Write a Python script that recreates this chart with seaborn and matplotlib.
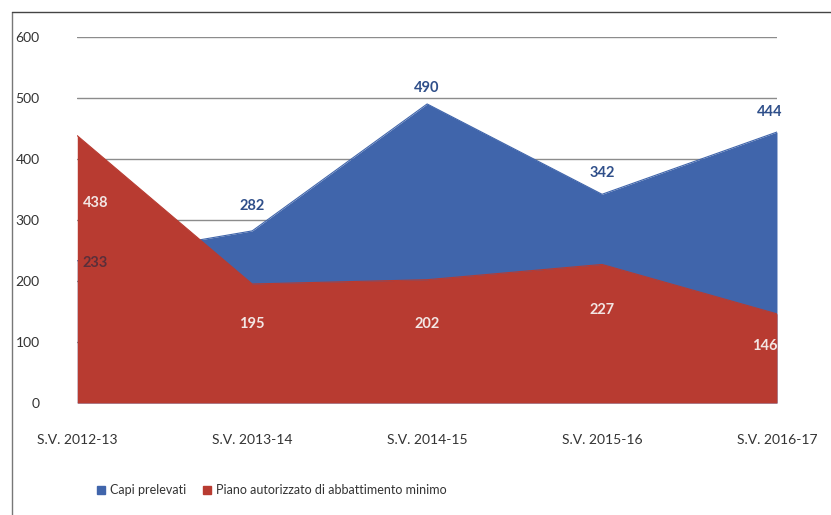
import pandas as pd
import matplotlib.pyplot as plt
import seaborn as sns
from matplotlib.patches import Patch

# Values
seasons = ['S.V. 2012-13', 'S.V. 2013-14', 'S.V. 2014-15', 'S.V. 2015-16', 'S.V. 2016-17']
capi_prelevati = [233, 282, 490, 342, 444]
piano_minimo = [438, 195, 202, 227, 146]

data = pd.DataFrame({'season': seasons,
                     'Capi prelevati': capi_prelevati,
                     'Piano autorizzato di abbattimento minimo': piano_minimo})
data['x'] = range(len(data))

sns.set_theme(style="white")
plt.rcParams['font.family'] = ['Lato', 'DejaVu Sans']

blue = '#4065ab'
red = '#b83b31'

fig = plt.figure(figsize=(8.31, 5.15), dpi=100)
ax = fig.add_axes([0.093, 0.2175, 0.842, 0.711])

# gridlines behind the areas
ax.set_axisbelow(True)
ax.yaxis.grid(True, color='#8c8c8c', linewidth=1)

# blue area first, red area drawn on top (overlapping, not stacked)
ax.fill_between(data['x'], data['Capi prelevati'], color=blue, linewidth=0, zorder=2)
sns.lineplot(data=data, x='x', y='Capi prelevati', color=blue, linewidth=0.8, ax=ax, zorder=2)
ax.fill_between(data['x'], data['Piano autorizzato di abbattimento minimo'], color=red, linewidth=0, zorder=3)
sns.lineplot(data=data, x='x', y='Piano autorizzato di abbattimento minimo', color=red,
             linewidth=0.8, ax=ax, zorder=3)

# data labels (pixel offsets relative to each point)
blue_off = [(18, -2), (0, 25), (0, 16), (0, 21), (-7, 20)]
red_off = [(18, -67), (0, -40), (0, -44), (0, -46), (-12, -32)]
for i, row in data.iterrows():
    bc = '#5a2f3a' if i == 0 else '#2f4f8a'
    ax.annotate(str(row['Capi prelevati']), (row['x'], row['Capi prelevati']),
                xytext=blue_off[i], textcoords='offset pixels', ha='center', va='center',
                fontsize=10.5, fontweight='bold', color=bc, zorder=5)
    ax.annotate(str(row['Piano autorizzato di abbattimento minimo']),
                (row['x'], row['Piano autorizzato di abbattimento minimo']),
                xytext=red_off[i], textcoords='offset pixels', ha='center', va='center',
                fontsize=10.5, fontweight='bold', color='#f3e6e4', zorder=5)

ax.set_xlim(0, len(seasons) - 1)
ax.set_ylim(0, 600)
ax.set_yticks(range(0, 700, 100))
ax.set_xticks(data['x'])
ax.set_xticklabels(seasons)
ax.set_xlabel('')
ax.set_ylabel('')
ax.tick_params(axis='y', labelsize=10, colors='#333333', pad=27, length=0)
ax.tick_params(axis='x', labelsize=10, colors='#333333', pad=22, length=0)
for s in ax.spines.values():
    s.set_visible(False)

handles = [Patch(color=blue, label='Capi prelevati'),
           Patch(color=red, label='Piano autorizzato di abbattimento minimo')]
fig.legend(handles=handles, loc='center', bbox_to_anchor=(0.327, 0.048), ncol=2,
           frameon=False, fontsize=9, handlelength=0.6, handleheight=0.6,
           columnspacing=1.4, handletextpad=0.4, labelcolor='#333333')

# outer frame of the scanned chart
fig.add_artist(plt.Line2D([0.0145, 0.0145], [0.0, 0.977], transform=fig.transFigure,
                          color='#777777', linewidth=1))
fig.add_artist(plt.Line2D([0.0145, 1.0], [0.977, 0.977], transform=fig.transFigure,
                          color='#444444', linewidth=1))

fig.savefig('out.png', dpi=100)
